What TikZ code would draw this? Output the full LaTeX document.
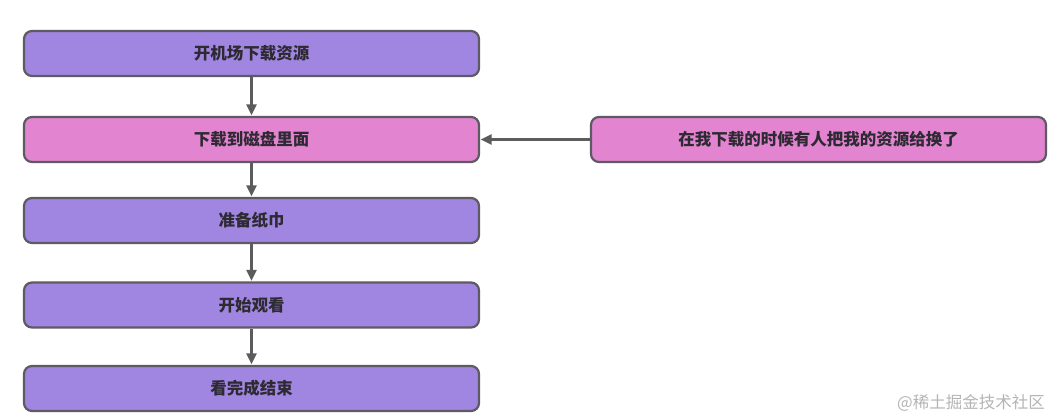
\documentclass[tikz,border=0pt]{standalone}
\usepackage{fontspec}
\setmainfont{Noto Sans CJK SC}
\usetikzlibrary{arrows.meta}
\definecolor{boxpurple}{HTML}{A086E0}
\definecolor{boxpink}{HTML}{E384D0}
\definecolor{edge}{HTML}{5E5A63}
\definecolor{arrowc}{HTML}{5C5C5C}
\definecolor{txt}{HTML}{2E2A33}
\definecolor{wm}{HTML}{B4B4B4}
\tikzset{
  flowbox/.style={draw=edge, line width=2.2pt, rounded corners=8pt,
    minimum width=455pt, minimum height=45pt, inner sep=0pt,
    font=\fontsize{16.5pt}{19pt}\selectfont\bfseries, text=txt},
  purplebox/.style={flowbox, fill=boxpurple},
  pinkbox/.style={flowbox, fill=boxpink},
  flowarrow/.style={draw=arrowc, line width=2.2pt,
    -{Triangle[length=11pt,width=10pt]}, shorten >=0.5pt}
}
\begin{document}
\begin{tikzpicture}[x=1pt,y=-1pt]
\useasboundingbox (0,0) rectangle (1053,419);
\node[purplebox] (n1) at (251.5,53.5) {开机场下载资源};
\node[pinkbox]   (n2) at (251.5,139.5) {下载到磁盘里面};
\node[purplebox] (n3) at (251.5,220.5) {准备纸巾};
\node[purplebox] (n4) at (251.5,305) {开始观看};
\node[purplebox] (n5) at (251.5,388.5) {看完成结束};
\node[pinkbox]   (r1) at (818.5,139.5) {在我下载的时候有人把我的资源给换了};
\draw[flowarrow] (n1) -- (n2);
\draw[flowarrow] (n2) -- (n3);
\draw[flowarrow] (n3) -- (n4);
\draw[flowarrow] (n4) -- (n5);
\draw[flowarrow] (r1) -- (n2);
\node[text=wm, font=\fontsize{16.5pt}{18pt}\selectfont, anchor=east, inner sep=0pt] (wmark) at (1045,403) {@稀土掘金技术社区};
\end{tikzpicture}
\end{document}
